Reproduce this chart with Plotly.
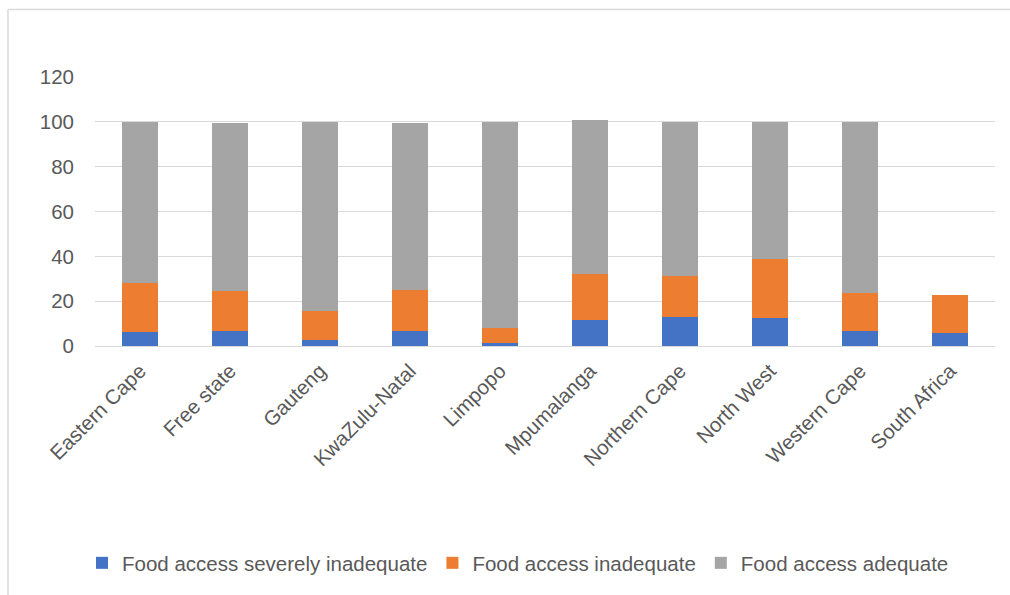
import plotly.graph_objects as go

categories = ["Eastern Cape", "Free state", "Gauteng", "KwaZulu-Natal", "Limpopo",
              "Mpumalanga", "Northern Cape", "North West", "Western Cape", "South Africa"]
severely_inadequate = [6.1, 6.5, 2.8, 6.5, 1.3, 11.7, 12.8, 12.4, 6.5, 5.8]
inadequate = [21.9, 17.9, 12.9, 18.5, 6.7, 20.3, 18.3, 26.5, 17.0, 16.8]
adequate = [71.8, 75.1, 84.3, 74.5, 92.0, 68.9, 68.9, 61.1, 76.5, 0]

series_names = ["Food access severely inadequate", "Food access inadequate", "Food access adequate"]
colors = ["#4472C4", "#ED7D31", "#A5A5A5"]

FONT = "Liberation Sans"
TXT = "#595959"

fig = go.Figure()
for name, vals, col in zip(series_names, [severely_inadequate, inadequate, adequate], colors):
    fig.add_trace(go.Bar(x=categories, y=vals, name=name, marker=dict(color=col, line=dict(width=0))))

W, H = 1010, 595
L, R, T, B = 95, 15, 77, 249
pw, ph = W - L - R, H - T - B

def px(x):
    return (x - L) / pw

def py(y):
    return (H - B - y) / ph

fig.update_layout(
    width=W, height=H,
    barmode="stack", bargap=0.6,
    margin=dict(l=L, r=R, t=T, b=B, pad=0),
    paper_bgcolor="white", plot_bgcolor="white",
    font=dict(family=FONT, color=TXT, size=20),
    showlegend=True,
    legend=dict(orientation="h", x=px(518), xanchor="center", y=py(563), yanchor="middle",
                font=dict(family=FONT, size=20.5, color=TXT), traceorder="normal",
                itemwidth=30, bgcolor="rgba(0,0,0,0)"),
    xaxis=dict(tickangle=-45, tickfont=dict(family=FONT, size=20.5, color=TXT),
               showgrid=False, showline=False, ticks="", ticklabelstandoff=8),
    yaxis=dict(range=[0, 120], dtick=20, tick0=0, showgrid=True, gridcolor="#D9D9D9", gridwidth=1,
               zeroline=True, zerolinecolor="#D9D9D9", zerolinewidth=1, showline=False,
               tickfont=dict(family=FONT, size=20.5, color=TXT), ticks="", ticklabelstandoff=20),
    shapes=[
        dict(type="line", xref="paper", yref="paper", x0=px(8), x1=px(1012), y0=py(9.5), y1=py(9.5),
             line=dict(color="#D9D9D9", width=1.5)),
        dict(type="line", xref="paper", yref="paper", x0=px(8), x1=px(8), y0=py(9.5), y1=py(600),
             line=dict(color="#D9D9D9", width=1.5)),
    ],
)

fig.write_html("out.html")
